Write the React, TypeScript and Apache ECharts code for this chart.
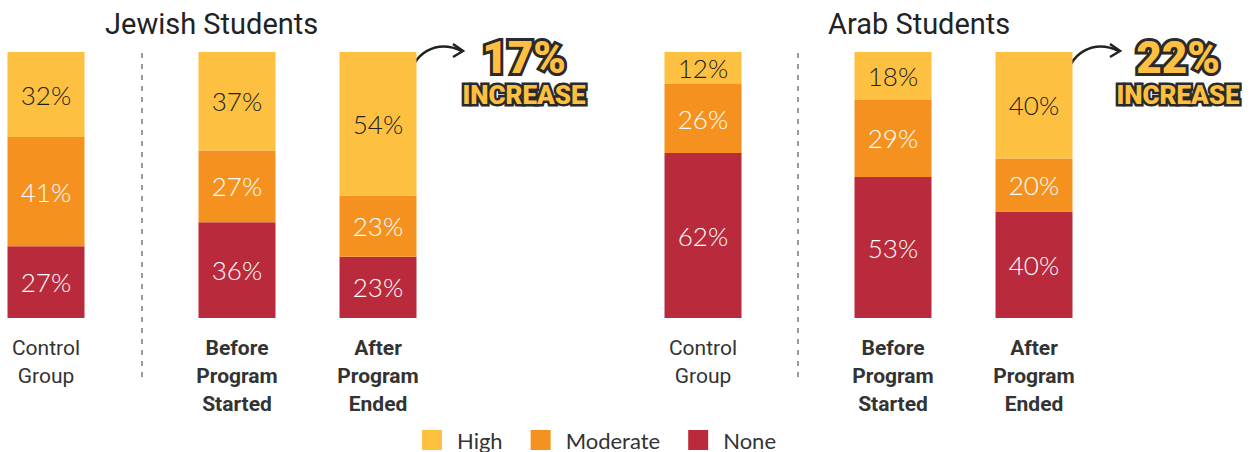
import React, { useEffect, useRef } from "react";
import * as echarts from "echarts";

const categories = [
  "Control\nGroup",
  "Before\nProgram\nStarted",
  "After\nProgram\nEnded",
  "Control\nGroup",
  "Before\nProgram\nStarted",
  "After\nProgram\nEnded",
];
const boldLabel = [false, true, true, false, true, true];
const high = [32, 37, 54, 12, 18, 40];
const moderate = [41, 27, 23, 26, 29, 20];
const none = [27, 36, 23, 62, 53, 40];
const groupTitles = ["Jewish Students", "Arab Students"];
const increases = ["17%", "22%"];
const legendNames = ["High", "Moderate", "None"];

const COLORS = { High: "#FDC040", Moderate: "#F5921F", None: "#B92B3C" };
const barCenters = [46, 237, 378, 703, 893, 1034];
const BAR_W = 77;

export default function App() {
  const ref = useRef<HTMLDivElement>(null);
  useEffect(() => {
    if (!ref.current) return;
    const chart = echarts.init(ref.current, undefined, { renderer: "svg" });
    const grids: any[] = [];
    const xAxes: any[] = [];
    const yAxes: any[] = [];
    const series: any[] = [];
    categories.forEach((cat, i) => {
      grids.push({ left: barCenters[i] - BAR_W / 2, width: BAR_W, top: 52, height: 266 });
      xAxes.push({
        type: "category",
        gridIndex: i,
        data: [cat],
        axisLine: { show: false },
        axisTick: { show: false },
        axisLabel: {
          margin: 16,
          fontFamily: "Roboto",
          fontSize: 21,
          lineHeight: 28,
          color: "#333",
          fontWeight: boldLabel[i] ? "bold" : "normal",
          interval: 0,
        },
      });
      yAxes.push({ type: "value", gridIndex: i, min: 0, max: 100, show: false });
      const defs: [string, number[], string][] = [
        ["None", none, "#fff"],
        ["Moderate", moderate, "#fff"],
        ["High", high, "#222"],
      ];
      defs.forEach(([name, arr, lc]) => {
        series.push({
          type: "bar",
          name,
          xAxisIndex: i,
          yAxisIndex: i,
          stack: "s" + i,
          barWidth: "100%",
          data: [arr[i]],
          itemStyle: { color: (COLORS as any)[name] },
          label: {
            show: true,
            position: "inside",
            formatter: "{c}%",
            color: lc,
            fontFamily: "Lato",
            fontWeight: 300,
            fontSize: 26,
          },
        });
      });
    });

    const badge = (cx: number, txt: string) => [
      {
        type: "text",
        x: cx,
        y: 58,
        style: {
          text: txt,
          fontFamily: "Roboto",
          fontWeight: 900,
          fontSize: 44,
          fill: "#FDC040",
          stroke: "#2a2a2a",
          lineWidth: 6,
          strokeFirst: true,
          align: "center",
          verticalAlign: "middle",
        },
      },
      {
        type: "text",
        x: cx,
        y: 95,
        style: {
          text: "INCREASE",
          fontFamily: "Roboto",
          fontWeight: 900,
          fontSize: 26,
          fill: "#FDC040",
          stroke: "#2a2a2a",
          lineWidth: 5,
          strokeFirst: true,
          align: "center",
          verticalAlign: "middle",
        },
      },
    ];
    const arrow = (x0: number) => [
      {
        type: "bezierCurve",
        shape: { x1: x0, y1: 84, cpx1: x0 + 4, cpy1: 50, cpx2: x0 + 30, cpy2: 40, x2: x0 + 54, y2: 51 },
        style: { stroke: "#222", lineWidth: 2.5, fill: null },
      },
      {
        type: "polyline",
        shape: { points: [[x0 + 45, 44], [x0 + 55, 51], [x0 + 45, 57]] },
        style: { stroke: "#222", lineWidth: 2.5, fill: null },
      },
    ];
    const dashed = (x: number) => ({
      type: "line",
      shape: { x1: x, y1: 53, x2: x, y2: 382 },
      style: { stroke: "#9a9a9a", lineWidth: 2, lineDash: [5, 6] },
    });
    const title = (x: number, t: string) => ({
      type: "text",
      x,
      y: 24,
      style: { text: t, fontFamily: "Roboto", fontSize: 29, fill: "#222", verticalAlign: "middle" },
    });

    chart.setOption({
      animation: false,
      grid: grids,
      xAxis: xAxes,
      yAxis: yAxes,
      series,
      legend: {
        data: legendNames,
        left: 422,
        top: 429,
        padding: 0,
        itemWidth: 20,
        itemHeight: 20,
        itemGap: 28,
        icon: "rect",
        selectedMode: false,
        textStyle: {
          fontFamily: "Lato",
          fontSize: 22,
          lineHeight: 20,
          color: "#333",
          padding: [0, 0, 0, 10],
        },
      },
      graphic: [
        title(105, groupTitles[0]),
        title(828, groupTitles[1]),
        dashed(142),
        dashed(798),
        ...arrow(408),
        ...arrow(1065),
        ...badge(524, increases[0]),
        ...badge(1178, increases[1]),
      ],
    });
    return () => chart.dispose();
  }, []);
  return (
    <div
      ref={ref}
      style={{ position: "fixed", left: 0, top: 0, width: 1256, height: 452, background: "#fff" }}
    />
  );
}
